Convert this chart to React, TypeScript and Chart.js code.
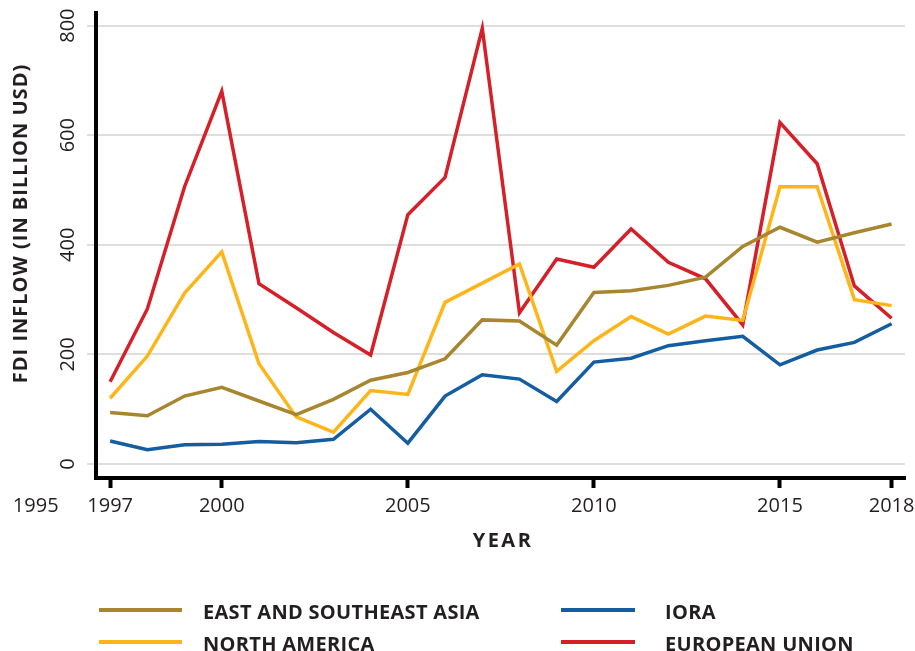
import React, { useEffect, useRef } from "react";
import { Chart, registerables } from "chart.js";

Chart.register(...registerables);

const years = [1997, 1998, 1999, 2000, 2001, 2002, 2003, 2004, 2005, 2006, 2007, 2008, 2009, 2010, 2011, 2012, 2013, 2014, 2015, 2016, 2017, 2018];
const eastSoutheastAsia = [94, 88, 124, 140, 115, 90, 118, 153, 167, 192, 263, 261, 217, 313, 316, 326, 341, 397, 432, 405, 422, 438];
const northAmerica = [120, 197, 312, 387, 183, 86, 58, 134, 127, 295, 330, 365, 169, 225, 269, 237, 270, 262, 506, 506, 300, 289];
const iora = [42, 26, 35, 36, 41, 39, 45, 100, 38, 124, 163, 155, 114, 186, 193, 216, 225, 233, 181, 208, 222, 256];
const europeanUnion = [150, 283, 506, 680, 329, 285, 240, 199, 455, 523, 795, 276, 374, 359, 429, 368, 338, 254, 623, 548, 325, 266];

const xTicks = [1995, 1997, 2000, 2005, 2010, 2015, 2018];
const yTicks = [0, 200, 400, 600, 800];

const seriesNames = ["EAST AND SOUTHEAST ASIA", "NORTH AMERICA", "IORA", "EUROPEAN UNION"];
const seriesColors = ["#A8862F", "#FDB519", "#145DA0", "#D62029"];
const seriesValues = [eastSoutheastAsia, northAmerica, iora, europeanUnion];

const yTitle = "FDI INFLOW (IN BILLION USD)";
const xTitle = "YEAR";

const FONT = "'Open Sans', 'Noto Sans', sans-serif";
const TEXT = "#231F20";

const extraText = {
  id: "extraText",
  afterDraw(chart: any) {
    const ctx = chart.ctx as CanvasRenderingContext2D;
    const yScale = chart.scales.y;
    ctx.save();
    ctx.fillStyle = TEXT;
    // y tick labels (rotated)
    ctx.font = `400 20px ${FONT}`;
    ctx.textAlign = "center";
    ctx.textBaseline = "middle";
    yTicks.forEach((v) => {
      const y = yScale.getPixelForValue(v);
      ctx.save();
      ctx.translate(68, y);
      ctx.rotate(-Math.PI / 2);
      ctx.fillText(String(v), 0, 0);
      ctx.restore();
    });
    // y title
    ctx.save();
    ctx.font = `700 20px ${FONT}`;
    (ctx as any).letterSpacing = "1px";
    ctx.translate(21, 223.5);
    ctx.rotate(-Math.PI / 2);
    ctx.fillText(yTitle, 0, 0);
    ctx.restore();
    // x title
    ctx.save();
    ctx.font = `700 20px ${FONT}`;
    (ctx as any).letterSpacing = "2.5px";
    ctx.fillText(xTitle, 503, 541);
    ctx.restore();
    // legend
    const cols = [
      { lx1: 99, lx2: 182, tx: 203 },
      { lx1: 561, lx2: 635, tx: 665 },
    ];
    const rows = [
      { ly: 610, ty: 618.5 },
      { ly: 642, ty: 650.5 },
    ];
    const placement = [
      [0, 0],
      [0, 1],
      [1, 0],
      [1, 1],
    ];
    ctx.font = `700 20px ${FONT}`;
    ctx.textAlign = "left";
    ctx.textBaseline = "alphabetic";
    (ctx as any).letterSpacing = "0.3px";
    chart.data.datasets.forEach((ds: any, i: number) => {
      const [c, r] = placement[i];
      const col = cols[c];
      const row = rows[r];
      ctx.strokeStyle = ds.borderColor;
      ctx.lineWidth = 4;
      ctx.beginPath();
      ctx.moveTo(col.lx1, row.ly);
      ctx.lineTo(col.lx2, row.ly);
      ctx.stroke();
      ctx.fillStyle = TEXT;
      ctx.fillText(ds.label, col.tx, row.ty);
    });
    ctx.restore();
  },
};

export default function App() {
  const ref = useRef<HTMLCanvasElement | null>(null);
  useEffect(() => {
    if (!ref.current) return;
    const chart = new Chart(ref.current, {
      type: "line",
      data: {
        datasets: seriesNames.map((name, i) => ({
          label: name,
          data: years.map((yr, j) => ({ x: yr, y: seriesValues[i][j] })),
          borderColor: seriesColors[i],
          backgroundColor: seriesColors[i],
          borderWidth: 3.5,
          pointRadius: 0,
          tension: 0,
          fill: false,
          borderJoinStyle: "miter" as const,
          borderCapStyle: "butt" as const,
        })),
      },
      options: {
        animation: false,
        responsive: false,
        maintainAspectRatio: false,
        layout: { padding: { top: 13, right: 10, left: 0, bottom: 0 } },
        plugins: { legend: { display: false }, tooltip: { enabled: false } },
        scales: {
          x: {
            type: "linear",
            min: 1996.62,
            max: 2018.36,
            afterBuildTicks: (s: any) => {
              s.ticks = xTicks.map((v) => ({ value: v }));
            },
            afterFit: (s: any) => {
              s.height = 173;
              s.paddingLeft = 0;
              s.paddingRight = 0;
            },
            grid: {
              display: true,
              drawOnChartArea: false,
              drawTicks: true,
              tickLength: 10,
              tickWidth: 4,
              tickColor: (c: any) => (c.tick && c.tick.value < 1996.62 ? "rgba(0,0,0,0)" : "#000"),
            },
            border: { display: true, color: "#000", width: 4 },
            ticks: {
              autoSkip: false,
              maxRotation: 0,
              minRotation: 0,
              padding: 6,
              color: TEXT,
              font: { family: FONT, size: 20 },
              callback: (v: any) => String(v),
            },
          },
          y: {
            type: "linear",
            min: -25.5,
            max: 823,
            afterBuildTicks: (s: any) => {
              s.ticks = yTicks.map((v) => ({ value: v }));
            },
            afterFit: (s: any) => {
              s.width = 96;
              s.paddingTop = 0;
              s.paddingBottom = 0;
            },
            grid: {
              color: "#DEDEDE",
              lineWidth: 2,
              drawTicks: true,
              tickLength: 9,
              tickColor: "#DEDEDE",
            },
            border: { display: true, color: "#000", width: 4 },
            ticks: { display: false },
          },
        },
      },
      plugins: [extraText],
    });
    return () => chart.destroy();
  }, []);
  return (
    <div style={{ position: "fixed", left: 0, top: 0, width: 915, height: 651, background: "#fff" }}>
      <canvas ref={ref} width={915} height={651} style={{ display: "block", width: 915, height: 651 }} />
    </div>
  );
}
